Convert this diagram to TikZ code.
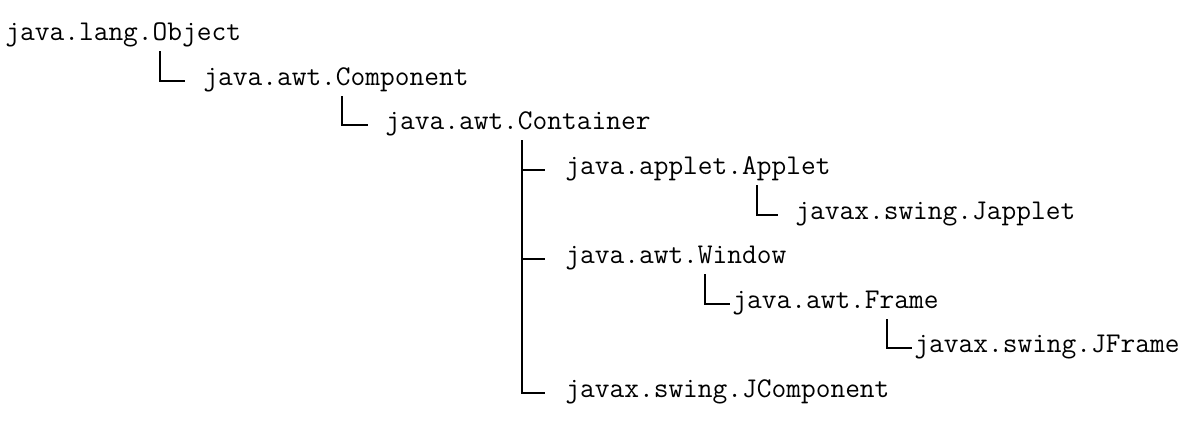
\documentclass[tikz,border=0pt]{standalone}
\usepackage{fontspec}
\usetikzlibrary{positioning}

\begin{document}
\begin{tikzpicture}[x=0.5pt,y=-0.5pt,
  cls/.style={anchor=west,font=\ttfamily\fontsize{14.3}{16}\selectfont,
    text height=8pt,text depth=3pt,inner xsep=0pt,inner ysep=2pt},
  tree/.style={line width=1pt,black}]
  \useasboundingbox (0,0) rectangle (1186,426);
  \node[cls] (obj) at (5,36) {java.lang.Object};
  \node[cls] (comp) at (203,81) {java.awt.Component};
  \node[cls] (cont) at (385,125) {java.awt.Container};
  \node[cls] (applet) at (565,170) {java.applet.Applet};
  \node[cls] (japplet) at (795,215) {javax.swing.Japplet};
  \node[cls] (window) at (565,259) {java.awt.Window};
  \node[cls] (frame) at (732,304) {java.awt.Frame};
  \node[cls] (jframe) at (914,348) {javax.swing.JFrame};
  \node[cls] (jcomp) at (565,393) {javax.swing.JComponent};

  \draw[tree] ([xshift=77.5pt]obj.south west) |- ([xshift=-9pt]comp.west);
  \draw[tree] ([xshift=69.5pt]comp.south west) |- ([xshift=-8.5pt]cont.west);
  \coordinate (trunk) at ([xshift=68.5pt]cont.south west);
  \draw[tree] (trunk) |- ([xshift=-10pt]jcomp.west);
  \draw[tree] (trunk |- applet.west) -- ([xshift=-10pt]applet.west);
  \draw[tree] (trunk |- window.west) -- ([xshift=-10pt]window.west);
  \draw[tree] ([xshift=96pt]applet.south west) |- ([xshift=-8.5pt]japplet.west);
  \draw[tree] ([xshift=70pt]window.south west) |- ([xshift=-1pt]frame.west);
  \draw[tree] ([xshift=77.5pt]frame.south west) |- ([xshift=-1pt]jframe.west);
\end{tikzpicture}
\end{document}
